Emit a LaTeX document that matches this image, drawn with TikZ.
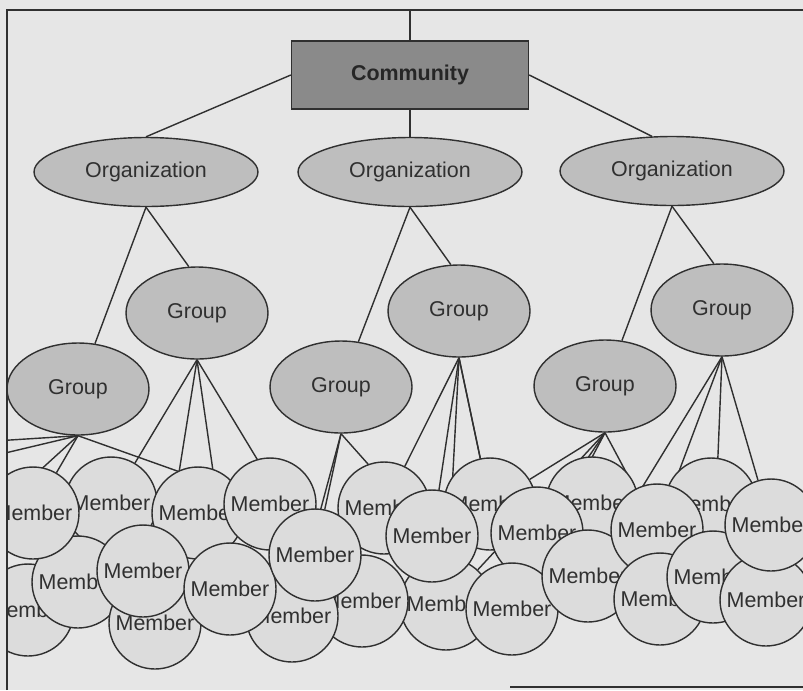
\documentclass[tikz,border=0pt]{standalone}
\usepackage{fontspec}
\setmainfont{Liberation Sans}
\usepackage{tikz}
\usetikzlibrary{
  shapes.geometric,
  backgrounds
}
\definecolor{PaperGray}{RGB}{230, 230, 230}
\definecolor{MemberGray}{RGB}{220, 220, 220}
\definecolor{OvalGray}{RGB}{190, 190, 190}
\definecolor{BoxGray}{RGB}{138, 138, 138}
\definecolor{InkGray}{RGB}{48, 48, 48}
\tikzset{
    every node/.append style={font=\fontsize{12.2}{14}\selectfont, text=InkGray},
    commbox/.style={rectangle, draw=InkGray, fill=BoxGray, line width=0.8pt,
        minimum width=4.74cm, minimum height=1.36cm,
        font=\fontsize{12.2}{14}\selectfont\bfseries, text=black!85},
    orgoval/.style={ellipse, draw=InkGray, fill=OvalGray, line width=0.8pt,
        minimum width=4.48cm, minimum height=1.38cm, inner sep=0pt},
    groupoval/.style={ellipse, draw=InkGray, fill=OvalGray, line width=0.8pt,
        minimum width=2.84cm, minimum height=1.84cm, inner sep=0pt},
    member/.style={circle, draw=InkGray, fill=MemberGray, line width=0.8pt,
        minimum size=1.84cm, inner sep=0pt},
    link/.style={draw=InkGray, line width=0.8pt}
}

\begin{document}
\begin{tikzpicture}[x=0.02cm, y=-0.02cm]
    \useasboundingbox (0,0) rectangle (803,690);
    \begin{scope}
        \clip (7,10) rectangle (803,690);
        \node[commbox] (comm) at (410,75) {Community};
        \node[orgoval] (org1) at (146,172) {Organization};
        \node[orgoval] (org2) at (410,172) {Organization};
        \node[orgoval] (org3) at (672,171) {Organization};
        \node[groupoval] (grpA) at (78,389) {Group};
        \node[groupoval] (grpB) at (197,313) {Group};
        \node[groupoval] (grpC) at (341,387) {Group};
        \node[groupoval] (grpD) at (459,311) {Group};
        \node[groupoval] (grpE) at (605,386) {Group};
        \node[groupoval] (grpF) at (722,310) {Group};
        % members, back to front
        \node[member] (m2) at (111,503) {Member};
        \node[member] (m3) at (198,513) {Member};
        \node[member] (m7) at (28,610) {Member};
        \node[member] (m11) at (384,508) {Member};
        \node[member] (m13) at (490,504) {Member};
        \node[member] (m17) at (446,604) {Member};
        \node[member] (m19) at (592,503) {Member};
        \node[member] (m23) at (711,504) {Member};
        \node[member] (m5) at (78,582) {Member};
        \node[member] (m1) at (33,513) {Member};
        \node[member] (m8) at (155,623) {Member};
        \node[member] (m6) at (143,571) {Member};
        \node[member] (m4) at (270,504) {Member};
        \node[member] (m15) at (362,601) {Member};
        \node[member] (m16) at (292,616) {Member};
        \node[member] (m9) at (230,589) {Member};
        \node[member] (m10) at (315,555) {Member};
        \node[member] (m12) at (432,536) {Member};
        \node[member] (m14) at (537,533) {Member};
        \node[member] (m18) at (512,609) {Member};
        \node[member] (m21) at (588,576) {Member};
        \node[member] (m20) at (657,530) {Member};
        \node[member] (m22) at (660,599) {Member};
        \node[member] (m24) at (713,577) {Member};
        \node[member] (m26) at (766,600) {Member};
        \node[member] (m25) at (771,525) {Member};
    \end{scope}

    \coordinate (frametop) at (410,10);
    \coordinate (offA1) at (-100,447);
    \coordinate (offA2) at (-100,478);
    \coordinate (offA3) at (-100,598);

    % connectors behind the shapes
    \begin{scope}[on background layer]
        \fill[PaperGray] (0,0) rectangle (803,690);
        \clip (7,10) rectangle (803,690);
        \draw[link] (frametop) -- (comm.north);
        \draw[link] (comm.west) -- (org1.north);
        \draw[link] (comm.south) -- (org2.north);
        \draw[link] (comm.east) -- (org3.120);
        \draw[link] (org1.south) -- (grpA);
        \draw[link] (org1.south) -- (grpB.100);
        \draw[link] (org2.south) -- (grpC);
        \draw[link] (org2.south) -- (grpD.100);
        \draw[link] (org3.south) -- (grpE);
        \draw[link] (org3.south) -- (grpF.100);
        \draw[link] (grpA.south) -- (offA1);
        \draw[link] (grpA.south) -- (offA2);
        \draw[link] (grpA.south) -- (offA3);
        \draw[link] (grpA.south) -- (m1);
        \draw[link] (grpA.south) -- (m4);
        \draw[link] (grpB.south) -- (m2);
        \draw[link] (grpB.south) -- (m8);
        \draw[link] (grpB.south) -- (m9);
        \draw[link] (grpB.south) -- (m10);
        \draw[link] (grpC.south) -- (m16);
        \draw[link] (grpC.south) -- (m10);
        \draw[link] (grpC.south) -- (m12);
        \draw[link] (grpD.south) -- (m11);
        \draw[link] (grpD.south) -- (m12);
        \draw[link] (grpD.south) -- (m17);
        \draw[link] (grpD.south) -- (m13);
        \draw[link] (grpD.south) -- (m18);
        \draw[link] (grpE.south) -- (m13);
        \draw[link] (grpE.south) -- (m17);
        \draw[link] (grpE.south) -- (m14);
        \draw[link] (grpE.south) -- (m18);
        \draw[link] (grpE.south) -- (m20);
        \draw[link] (grpF.south) -- (m21);
        \draw[link] (grpF.south) -- (m20);
        \draw[link] (grpF.south) -- (m24);
        \draw[link] (grpF.south) -- (m25);
    \end{scope}

    % frame
    \draw[draw=InkGray, line width=1.2pt] (7,690) -- (7,10) -- (803,10);
    \draw[draw=InkGray, line width=1.6pt] (510,687) -- (803,687);
\end{tikzpicture}
\end{document}
